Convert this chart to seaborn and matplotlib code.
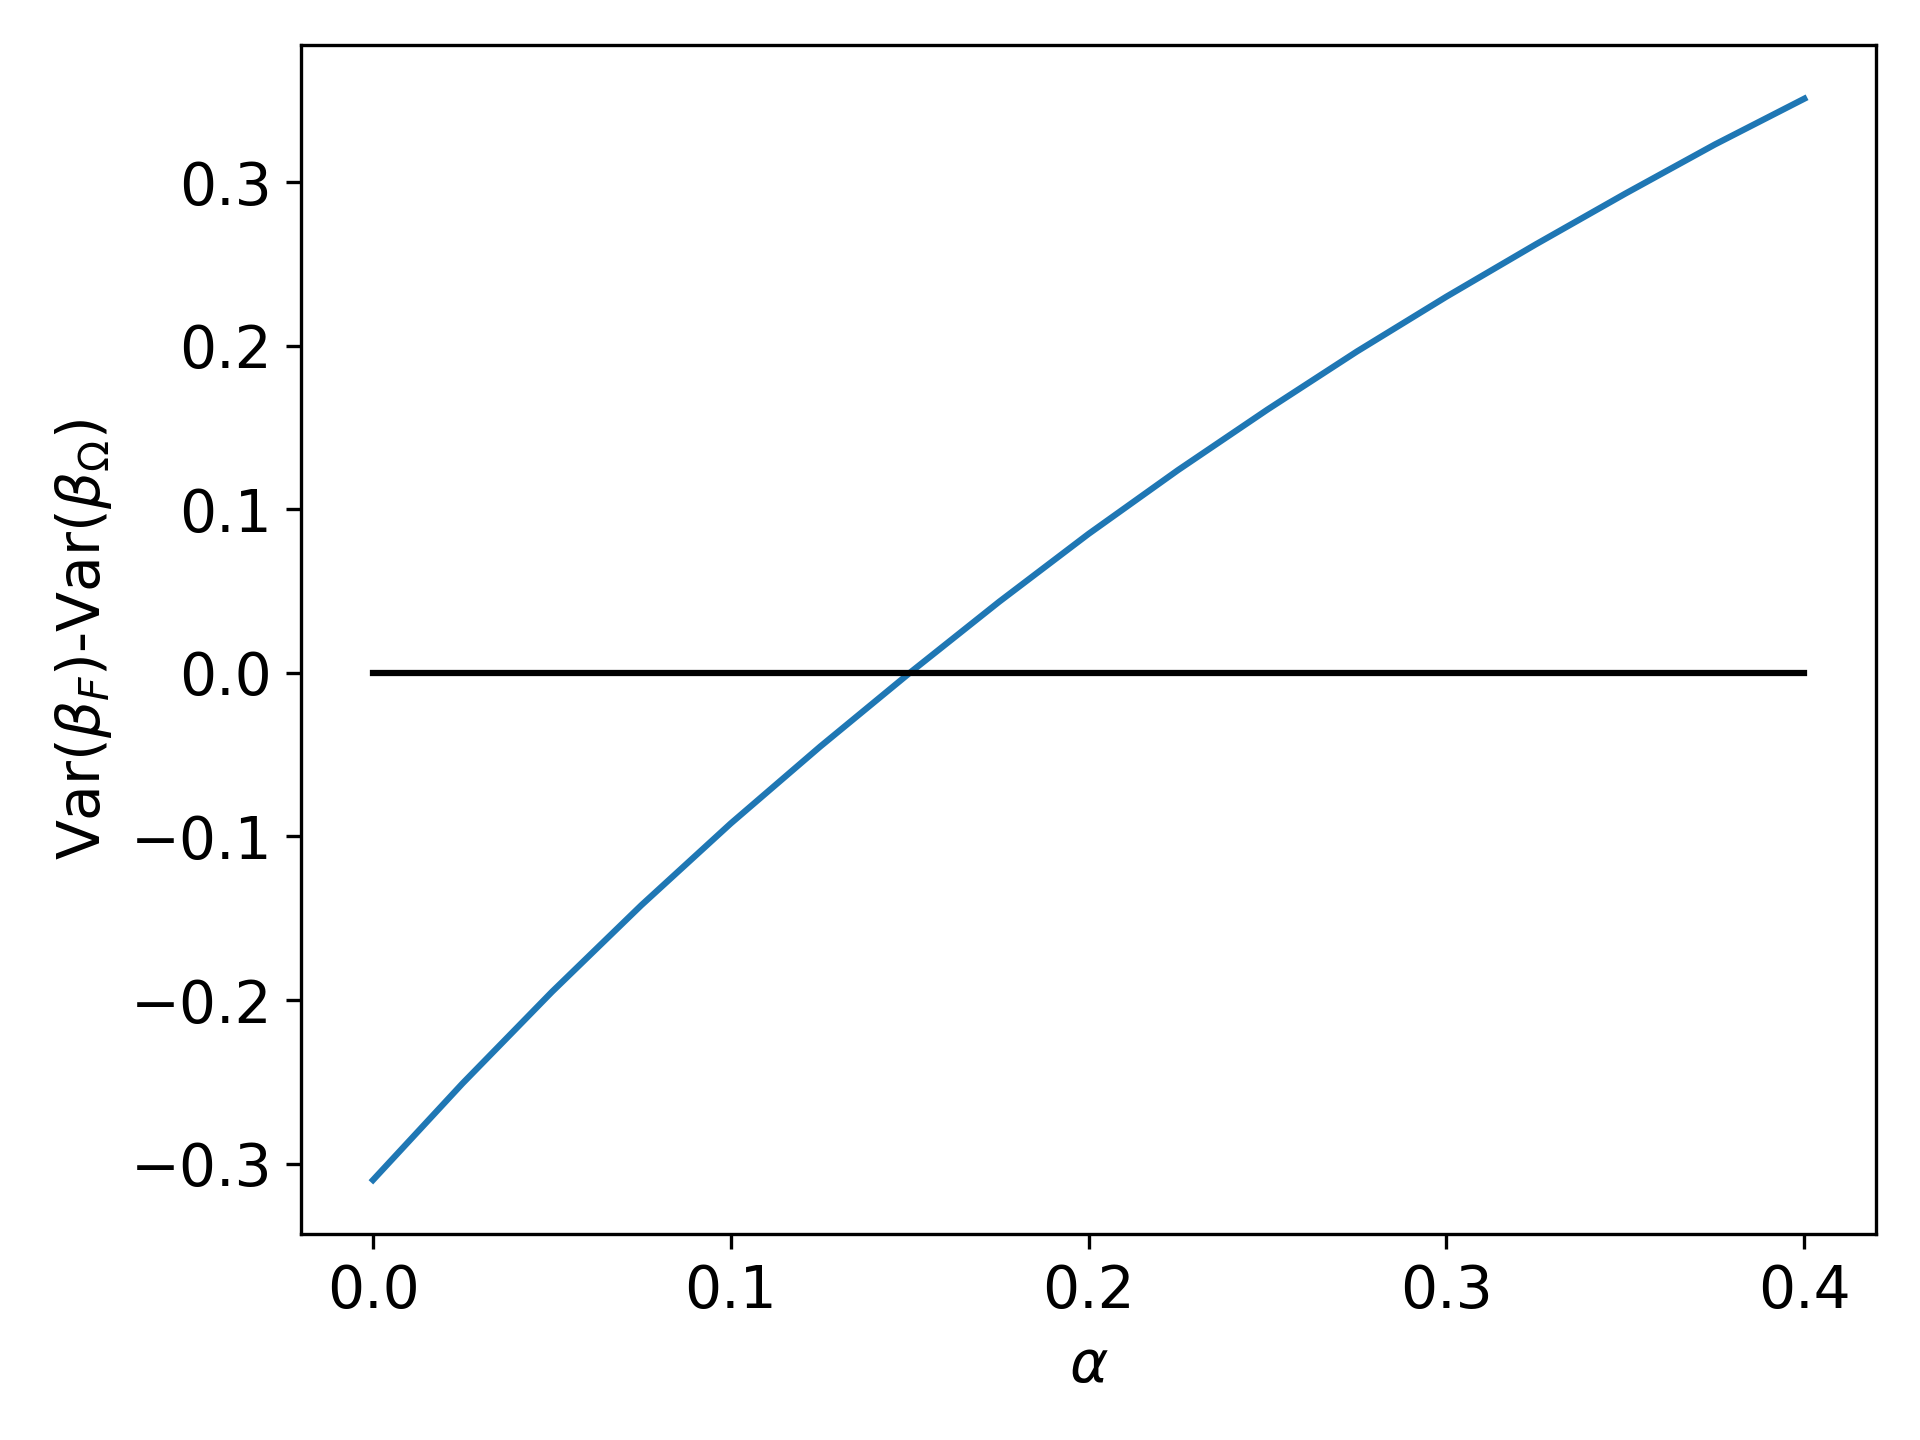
import numpy as np
import pandas as pd
import matplotlib
matplotlib.use("Agg")
import matplotlib.pyplot as plt
import seaborn as sns

# values
alpha = [0.0, 0.025, 0.05, 0.075, 0.10, 0.125, 0.15, 0.175, 0.20,
         0.225, 0.25, 0.275, 0.30, 0.325, 0.35, 0.375, 0.40]
var_diff = [-0.310, -0.251, -0.195, -0.142, -0.092, -0.045, 0.0, 0.0435, 0.085,
            0.124, 0.161, 0.1965, 0.230, 0.262, 0.293, 0.323, 0.351]
zero_line = [0.0] * len(alpha)

df = pd.DataFrame({"alpha": alpha, "diff": var_diff, "zero": zero_line})

plt.rcParams["font.size"] = 14
plt.rcParams["mathtext.fontset"] = "dejavusans"

fig, ax = plt.subplots(figsize=(6.4, 4.8), dpi=300)
sns.lineplot(data=df, x="alpha", y="diff", color="#1f77b4", linewidth=1.5, ax=ax)
sns.lineplot(data=df, x="alpha", y="zero", color="black", linewidth=1.5, ax=ax)

ax.set_xlabel(r"$\alpha$")
ax.set_ylabel(r"Var($\beta_F$)-Var($\beta_\Omega$)")
ax.set_xticks([0.0, 0.1, 0.2, 0.3, 0.4])
ax.set_yticks([-0.3, -0.2, -0.1, 0.0, 0.1, 0.2, 0.3])

fig.subplots_adjust(left=0.157, right=0.977, top=0.969, bottom=0.143)
fig.savefig("out.png", dpi=300)
